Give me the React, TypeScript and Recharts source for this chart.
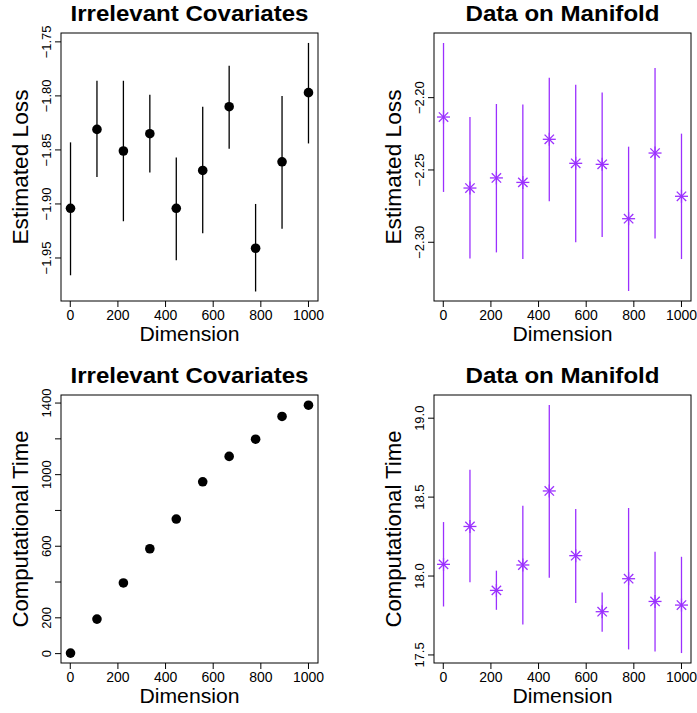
import React from "react";
import {
  ScatterChart,
  Scatter,
  XAxis,
  YAxis,
  ErrorBar,
  Customized,
} from "recharts";

// ---------- data ----------
const dims = [1, 112, 223, 334, 445, 556, 667, 778, 889, 1000];
const xTicks = [0, 200, 400, 600, 800, 1000];

const lossIrr = [-1.904, -1.831, -1.851, -1.835, -1.904, -1.869, -1.81, -1.941, -1.861, -1.797];
const lossIrrLo = [-1.966, -1.875, -1.916, -1.871, -1.952, -1.927, -1.849, -1.981, -1.923, -1.844];
const lossIrrHi = [-1.843, -1.786, -1.786, -1.799, -1.857, -1.81, -1.772, -1.9, -1.8, -1.751];

const lossMan = [-2.2134, -2.2625, -2.2555, -2.2586, -2.2288, -2.2454, -2.2461, -2.2837, -2.2383, -2.2682];
const lossManLo = [-2.2652, -2.3113, -2.307, -2.3116, -2.2717, -2.3, -2.2963, -2.3337, -2.2973, -2.3116];
const lossManHi = [-2.1622, -2.2134, -2.2044, -2.2048, -2.1862, -2.191, -2.1965, -2.2339, -2.1795, -2.2249];

const timeIrr = [3, 193, 395, 586, 752, 960, 1102, 1198, 1325, 1388];

const timeMan = [18.074, 18.314, 17.909, 18.07, 18.539, 18.129, 17.774, 17.983, 17.839, 17.816];
const timeManLo = [17.807, 17.96, 17.786, 17.693, 17.989, 17.829, 17.647, 17.535, 17.522, 17.512];
const timeManHi = [18.342, 18.674, 18.034, 18.445, 19.084, 18.425, 17.896, 18.431, 18.154, 18.122];

const lossIrrTicks = [-1.95, -1.9, -1.85, -1.8, -1.75];
const lossManTicks = [-2.3, -2.25, -2.2];
const timeIrrTicks = [0, 200, 400, 600, 800, 1000, 1200, 1400];
const timeIrrTickLabels = [0, 200, 600, 1000, 1400];
const timeManTicks = [17.5, 18.0, 18.5, 19.0];

const X_DOMAIN: [number, number] = [-38.96, 1039.96];

const PURPLE = "#9B30FF";
const FONT = "'Liberation Sans', Arial, Helvetica, sans-serif";

function buildRows(ys: number[], lo?: number[], hi?: number[]) {
  return dims.map((d, i) => ({
    x: d,
    y: ys[i],
    err: lo && hi ? [ys[i] - lo[i], hi[i] - ys[i]] : [0, 0],
  }));
}

const DotShape = (props: any) => {
  const { cx, cy } = props;
  if (cx == null || cy == null) return null;
  return <circle cx={cx} cy={cy} r={4.8} fill="#000" />;
};

const StarShape = (props: any) => {
  const { cx, cy } = props;
  if (cx == null || cy == null) return null;
  const r = 6.5;
  const d = r * 0.72;
  return (
    <g stroke={PURPLE} strokeWidth={1.3}>
      <line x1={cx - r} y1={cy} x2={cx + r} y2={cy} />
      <line x1={cx} y1={cy - r} x2={cx} y2={cy + r} />
      <line x1={cx - d} y1={cy - d} x2={cx + d} y2={cy + d} />
      <line x1={cx - d} y1={cy + d} x2={cx + d} y2={cy - d} />
    </g>
  );
};

type PanelProps = {
  left: number;
  top: number;
  w: number;
  h: number;
  boxL: number;
  boxT: number;
  boxW: number;
  boxH: number;
  yDomain: [number, number];
  yTicks: number[];
  yLabels: number[];
  fmt: (v: number) => string;
  rows: any[];
  kind: "dot" | "star";
  title: string;
  titleLen: number;
  ylabel: string;
  ylabelLen: number;
  showErr: boolean;
};

const YW = 40;
const XH = 30;

function Panel(p: PanelProps) {
  const margin = {
    top: p.boxT,
    left: p.boxL - YW,
    right: p.w - p.boxL - p.boxW,
    bottom: p.h - p.boxT - p.boxH - XH,
  };
  const cx = p.boxL + p.boxW / 2;
  const cy = p.boxT + p.boxH / 2;
  const ylx = p.boxL - 33;

  const XTick = (props: any) => {
    const { x, y, payload } = props;
    return (
      <text x={x} y={y + 13} textAnchor="middle" fontSize={14} fontFamily={FONT} fill="#000">
        {String(payload.value)}
      </text>
    );
  };
  const YTick = (props: any) => {
    const { x, y, payload } = props;
    const v = payload.value;
    if (!p.yLabels.some((l) => Math.abs(l - v) < 1e-9)) return <g />;
    const tx = x - 4;
    return (
      <text
        x={tx}
        y={y}
        transform={`rotate(-90 ${tx} ${y})`}
        textAnchor="middle"
        fontSize={13}
        fontFamily={FONT}
        fill="#000"
      >
        {p.fmt(v)}
      </text>
    );
  };

  const Texts = () => (
    <g fontFamily={FONT} fill="#000">
      <rect
        x={p.boxL}
        y={p.boxT}
        width={p.boxW}
        height={p.boxH}
        fill="none"
        stroke="#000"
        strokeWidth={1}
      />
      <text
        x={cx}
        y={p.boxT - 12}
        textAnchor="middle"
        fontSize={22}
        fontWeight="bold"
        textLength={p.titleLen}
        lengthAdjust="spacingAndGlyphs"
      >
        {p.title}
      </text>
      <text
        x={cx}
        y={p.boxT + p.boxH + 40}
        textAnchor="middle"
        fontSize={20}
        textLength={100}
        lengthAdjust="spacingAndGlyphs"
      >
        Dimension
      </text>
      <text
        x={ylx}
        y={cy}
        transform={`rotate(-90 ${ylx} ${cy})`}
        textAnchor="middle"
        fontSize={22}
        textLength={p.ylabelLen}
        lengthAdjust="spacingAndGlyphs"
      >
        {p.ylabel}
      </text>
    </g>
  );

  const color = p.kind === "dot" ? "#000" : PURPLE;

  return (
    <div style={{ position: "absolute", left: p.left, top: p.top, width: p.w, height: p.h }}>
      <ScatterChart width={p.w} height={p.h} margin={margin}>
        <XAxis
          type="number"
          dataKey="x"
          domain={X_DOMAIN}
          ticks={xTicks}
          allowDataOverflow
          height={XH}
          axisLine={false}
          tickLine={{ stroke: "#000" }}
          tickSize={6}
          tickMargin={0}
          tick={<XTick />}
          interval={0}
        />
        <YAxis
          type="number"
          dataKey="y"
          domain={p.yDomain}
          ticks={p.yTicks}
          allowDataOverflow
          width={YW}
          axisLine={false}
          tickLine={{ stroke: "#000" }}
          tickSize={6}
          tickMargin={0}
          tick={<YTick />}
          interval={0}
        />
        <Scatter
          data={p.rows}
          isAnimationActive={false}
          shape={p.kind === "dot" ? <DotShape /> : <StarShape />}
        >
          {p.showErr && (
            <ErrorBar dataKey="err" direction="y" width={0} stroke={color} strokeWidth={1.3} />
          )}
        </Scatter>
        <Customized component={<Texts />} />
      </ScatterChart>
    </div>
  );
}

const fmt2 = (v: number) => v.toFixed(2).replace("-", "\u2212");
const fmt1 = (v: number) => v.toFixed(1);
const fmt0 = (v: number) => String(v);

export default function App() {
  return (
    <div
      style={{
        position: "absolute",
        left: 0,
        top: 0,
        width: 697,
        height: 713,
        background: "#fff",
        overflow: "hidden",
      }}
    >
      <Panel
        left={0}
        top={0}
        w={348}
        h={357}
        boxL={61}
        boxT={33}
        boxW={257}
        boxH={268}
        yDomain={[-1.9898, -1.7418]}
        yTicks={lossIrrTicks}
        yLabels={lossIrrTicks}
        fmt={fmt2}
        rows={buildRows(lossIrr, lossIrrLo, lossIrrHi)}
        kind="dot"
        title="Irrelevant Covariates"
        titleLen={238}
        ylabel="Estimated Loss"
        ylabelLen={155}
        showErr
      />
      <Panel
        left={348}
        top={0}
        w={349}
        h={357}
        boxL={86}
        boxT={33}
        boxW={257}
        boxH={268}
        yDomain={[-2.3406, -2.1553]}
        yTicks={lossManTicks}
        yLabels={lossManTicks}
        fmt={fmt2}
        rows={buildRows(lossMan, lossManLo, lossManHi)}
        kind="star"
        title="Data on Manifold"
        titleLen={194}
        ylabel="Estimated Loss"
        ylabelLen={155}
        showErr
      />
      <Panel
        left={0}
        top={357}
        w={348}
        h={356}
        boxL={61}
        boxT={38}
        boxW={257}
        boxH={268}
        yDomain={[-52.4, 1445]}
        yTicks={timeIrrTicks}
        yLabels={timeIrrTickLabels}
        fmt={fmt0}
        rows={buildRows(timeIrr)}
        kind="dot"
        title="Irrelevant Covariates"
        titleLen={238}
        ylabel="Computational Time"
        ylabelLen={197}
        showErr={false}
      />
      <Panel
        left={348}
        top={357}
        w={349}
        h={356}
        boxL={86}
        boxT={38}
        boxW={257}
        boxH={268}
        yDomain={[17.449, 19.147]}
        yTicks={timeManTicks}
        yLabels={timeManTicks}
        fmt={fmt1}
        rows={buildRows(timeMan, timeManLo, timeManHi)}
        kind="star"
        title="Data on Manifold"
        titleLen={194}
        ylabel="Computational Time"
        ylabelLen={197}
        showErr
      />
    </div>
  );
}
